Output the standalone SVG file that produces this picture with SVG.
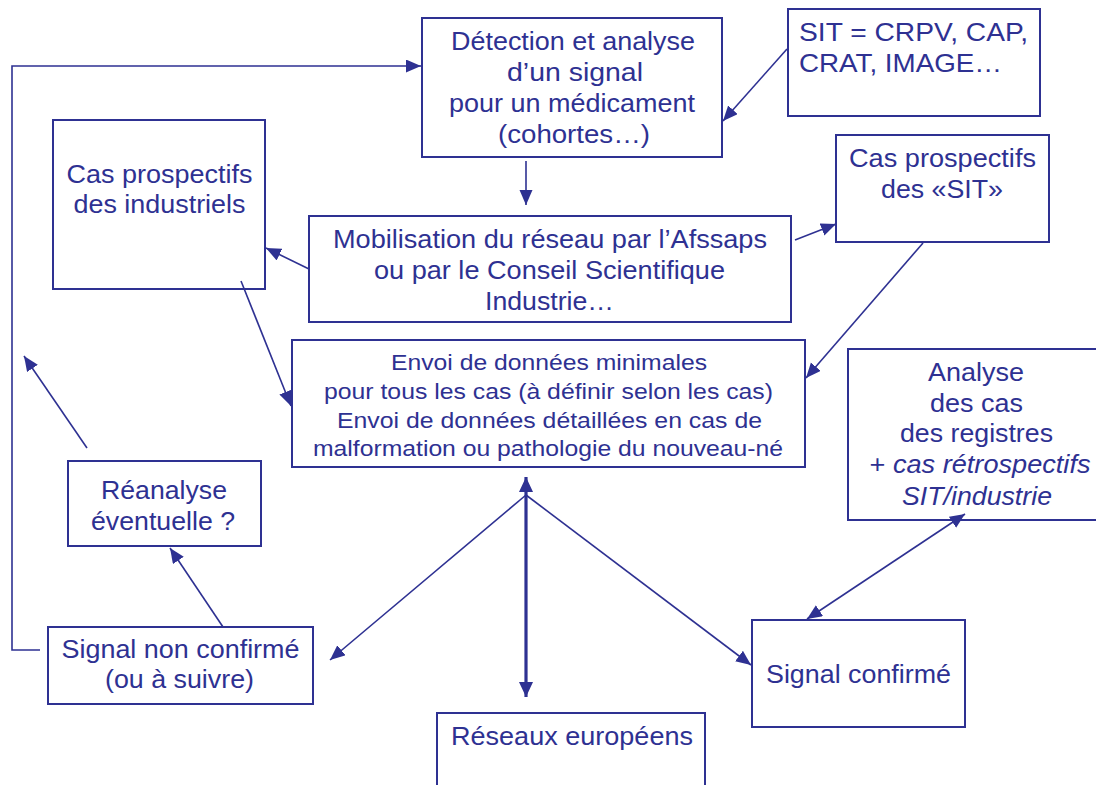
<svg xmlns="http://www.w3.org/2000/svg" width="1096" height="785" viewBox="0 0 1096 785">
<style>
.box{fill:#fff;stroke:#2E3192;stroke-width:2}
.t{font-family:"Liberation Sans",Arial,sans-serif;fill:#2E3192;text-anchor:middle}
.f25{font-size:25px}
.f26{font-size:26px}
.f22{font-size:22px}
.ln{fill:none;stroke:#2E3192;stroke-width:1.6}
.thick{fill:none;stroke:#2E3192;stroke-width:3.2}
</style>
<defs>
<marker id="ah" markerUnits="userSpaceOnUse" markerWidth="16" markerHeight="14" refX="15" refY="6.5" orient="auto-start-reverse">
<path d="M0,0 L15,6.5 L0,13 z" fill="#2E3192"/>
</marker>
<marker id="ahb" markerUnits="userSpaceOnUse" markerWidth="16" markerHeight="16" refX="15" refY="7" orient="auto-start-reverse">
<path d="M0,0 L15,7 L0,14 z" fill="#2E3192"/>
</marker>
</defs>
<rect width="1096" height="785" fill="#fff"/>

<g id="detection">
<rect class="box" x="422" y="18" width="300" height="139"/>
<text class="t f25" x="573" y="50" textLength="244" lengthAdjust="spacingAndGlyphs">Détection et analyse</text>
<text class="t f25" x="575" y="81" textLength="136" lengthAdjust="spacingAndGlyphs">d’un signal</text>
<text class="t f25" x="572" y="112" textLength="246" lengthAdjust="spacingAndGlyphs">pour un médicament</text>
<text class="t f25" x="574" y="143" textLength="152" lengthAdjust="spacingAndGlyphs">(cohortes…)</text>
</g>

<g id="sit">
<rect class="box" x="788" y="9" width="252" height="107"/>
<text class="t f25" x="799" y="41" style="text-anchor:start" textLength="229" lengthAdjust="spacingAndGlyphs">SIT = CRPV, CAP,</text>
<text class="t f25" x="799" y="72" style="text-anchor:start" textLength="203" lengthAdjust="spacingAndGlyphs">CRAT, IMAGE…</text>
</g>

<g id="cas-industriels">
<rect class="box" x="53" y="120" width="212" height="169"/>
<text class="t f25" x="159.5" y="183" textLength="186" lengthAdjust="spacingAndGlyphs">Cas prospectifs</text>
<text class="t f25" x="159.5" y="213" textLength="172" lengthAdjust="spacingAndGlyphs">des industriels</text>
</g>

<g id="mobilisation">
<rect class="box" x="309" y="216" width="482" height="106"/>
<text class="t f26" x="550" y="248" textLength="434" lengthAdjust="spacingAndGlyphs">Mobilisation du réseau par l’Afssaps</text>
<text class="t f26" x="549.5" y="279" textLength="351" lengthAdjust="spacingAndGlyphs">ou par le Conseil Scientifique</text>
<text class="t f26" x="549.5" y="310" textLength="129" lengthAdjust="spacingAndGlyphs">Industrie…</text>
</g>

<g id="cas-sit">
<rect class="box" x="836" y="135" width="213" height="107"/>
<text class="t f25" x="942.5" y="167" textLength="187" lengthAdjust="spacingAndGlyphs">Cas prospectifs</text>
<text class="t f25" x="942" y="198" textLength="122" lengthAdjust="spacingAndGlyphs">des «SIT»</text>
</g>

<g id="envoi">
<rect class="box" x="292" y="340" width="513" height="127"/>
<text class="t f22" x="549" y="370" textLength="316" lengthAdjust="spacingAndGlyphs">Envoi de données minimales</text>
<text class="t f22" x="548.5" y="399" textLength="449" lengthAdjust="spacingAndGlyphs">pour tous les cas (à définir selon les cas)</text>
<text class="t f22" x="549.5" y="428" textLength="425" lengthAdjust="spacingAndGlyphs">Envoi de données détaillées en cas de</text>
<text class="t f22" x="548" y="456" textLength="470" lengthAdjust="spacingAndGlyphs">malformation ou pathologie du nouveau-né</text>
</g>

<g id="analyse">
<rect class="box" x="848" y="349" width="260" height="171"/>
<text class="t f25" x="976" y="381" textLength="96" lengthAdjust="spacingAndGlyphs">Analyse</text>
<text class="t f25" x="976.5" y="412" textLength="93" lengthAdjust="spacingAndGlyphs">des cas</text>
<text class="t f25" x="976.5" y="442" textLength="153" lengthAdjust="spacingAndGlyphs">des registres</text>
<text class="t f25" x="980" y="473" textLength="221" lengthAdjust="spacingAndGlyphs">+ <tspan font-style="italic">cas rétrospectifs</tspan></text>
<text class="t f25" x="977" y="505" font-style="italic" textLength="150" lengthAdjust="spacingAndGlyphs">SIT/industrie</text>
</g>

<g id="reanalyse">
<rect class="box" x="68" y="461" width="193" height="85"/>
<text class="t f25" x="164" y="499" textLength="126" lengthAdjust="spacingAndGlyphs">Réanalyse</text>
<text class="t f25" x="163" y="530" textLength="144" lengthAdjust="spacingAndGlyphs">éventuelle ?</text>
</g>

<g id="signal-non-confirme">
<rect class="box" x="48" y="627" width="265" height="77"/>
<text class="t f25" x="180.5" y="658" textLength="238" lengthAdjust="spacingAndGlyphs">Signal non confirmé</text>
<text class="t f25" x="179.5" y="688" textLength="149" lengthAdjust="spacingAndGlyphs">(ou à suivre)</text>
</g>

<g id="signal-confirme">
<rect class="box" x="752" y="620" width="213" height="107"/>
<text class="t f25" x="858.5" y="683" textLength="185" lengthAdjust="spacingAndGlyphs">Signal confirmé</text>
</g>

<g id="reseaux">
<rect class="box" x="437" y="713" width="268" height="90"/>
<text class="t f25" x="572" y="745" textLength="242" lengthAdjust="spacingAndGlyphs">Réseaux européens</text>
</g>

<g id="connectors">
<polyline class="ln" points="40,650 12,650 12,66 421,66" marker-end="url(#ah)"/>
<line class="ln" x1="526" y1="161" x2="526" y2="205" marker-end="url(#ah)"/>
<line class="ln" x1="787" y1="49" x2="723" y2="121" marker-end="url(#ah)"/>
<line class="ln" x1="309" y1="269" x2="266" y2="248" marker-end="url(#ah)"/>
<line class="ln" x1="795" y1="240" x2="836" y2="224" marker-end="url(#ah)"/>
<line class="ln" x1="241" y1="281" x2="291" y2="406" marker-end="url(#ah)"/>
<line class="ln" x1="923" y1="243" x2="806" y2="378" marker-end="url(#ah)"/>
<line class="thick" x1="526" y1="477" x2="526" y2="697" marker-start="url(#ahb)" marker-end="url(#ahb)"/>
<line class="ln" x1="526" y1="495" x2="330" y2="660" marker-end="url(#ah)"/>
<line class="ln" x1="526" y1="495" x2="751" y2="665" marker-end="url(#ah)"/>
<line class="ln" x1="965" y1="514" x2="807" y2="619" marker-start="url(#ah)" marker-end="url(#ah)"/>
<line class="ln" x1="223" y1="627" x2="170" y2="548" marker-end="url(#ah)"/>
<line class="ln" x1="87" y1="448" x2="24" y2="356" marker-end="url(#ah)"/>
</g>
</svg>
